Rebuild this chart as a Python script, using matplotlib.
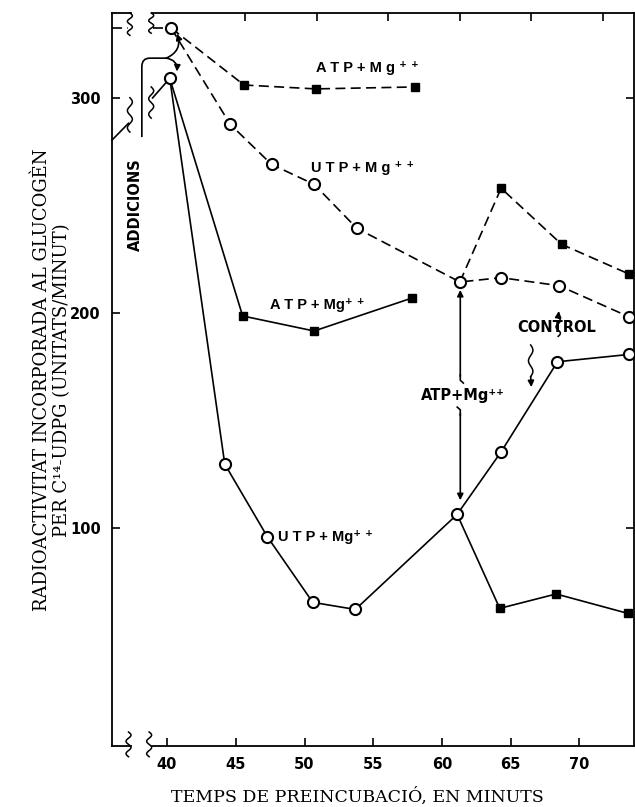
import matplotlib.pyplot as plt
import numpy as np
from matplotlib.path import Path
from matplotlib.patches import PathPatch

# starting points, right after the additions
t_start_hi, v_start_hi = 40.3, 332.4
t_start_lo, v_start_lo = 40.2, 309.0

# dashed group
atp_dash_t = [45.6, 50.8, 58.0]
atp_dash_v = [305.9, 304.1, 305.0]
ctrl_dash_t = [44.6, 47.6, 50.7, 53.8, 61.3, 64.3, 68.5, 73.6]
ctrl_dash_v = [287.6, 269.0, 259.7, 239.3, 214.3, 216.3, 212.6, 198.1]
atp_late_dash_t = [64.3, 68.7, 73.6]
atp_late_dash_v = [257.9, 231.8, 218.0]

# solid group
atp_sol_t = [45.5, 50.7, 57.8]
atp_sol_v = [198.5, 191.5, 206.8]
ctrl_sol_t = [44.2, 47.3, 50.6, 53.7, 61.1, 64.3, 68.4, 73.6]
ctrl_sol_v = [129.6, 95.8, 65.3, 62.0, 106.2, 135.3, 177.2, 180.6]
atp_late_sol_t = [64.2, 68.3, 73.5]
atp_late_sol_v = [62.5, 69.2, 60.2]

x_ticks = [40, 45, 50, 55, 60, 65, 70]
y_ticks = [100, 200, 300]
top_ticks = [45.7, 50.9, 56.1, 61.3, 66.5, 71.7]

SANS = ['Liberation Sans', 'DejaVu Sans']
WIDE = ['DejaVu Sans']
SERIF = ['DejaVu Serif']
K = 'black'
LW = 1.2
DASH = (6.0, 3.2)

fig = plt.figure(figsize=(6.35, 8.07), dpi=100)
ax = fig.add_axes([0.1764, 0.0756, 0.8228, 0.9083])
ax.set_xlim(36.0, 74.0)
ax.set_ylim(-1.5, 339.4)


def line(t, v, dashed):
    kw = dict(color=K, lw=LW, zorder=2, clip_on=False)
    if dashed:
        kw.update(ls='--', dashes=DASH)
    ax.plot(t, v, **kw)


def circles(t, v):
    ax.plot(t, v, ls='none', marker='o', ms=8, mfc='white', mec=K,
            mew=1.5, zorder=4, clip_on=False)


def squares(t, v):
    ax.plot(t, v, ls='none', marker='s', ms=5.8, mfc=K, mec=K,
            zorder=4, clip_on=False)


# dashed curves
line([t_start_hi] + atp_dash_t, [v_start_hi] + atp_dash_v, True)
line([t_start_hi] + ctrl_dash_t, [v_start_hi] + ctrl_dash_v, True)
line([ctrl_dash_t[4]] + atp_late_dash_t, [ctrl_dash_v[4]] + atp_late_dash_v, True)
squares(atp_dash_t, atp_dash_v)
squares(atp_late_dash_t, atp_late_dash_v)
circles([t_start_hi] + ctrl_dash_t, [v_start_hi] + ctrl_dash_v)

# solid curves
line([t_start_lo] + atp_sol_t, [v_start_lo] + atp_sol_v, False)
line([t_start_lo] + ctrl_sol_t, [v_start_lo] + ctrl_sol_v, False)
line([ctrl_sol_t[4]] + atp_late_sol_t, [ctrl_sol_v[4]] + atp_late_sol_v, False)
squares(atp_sol_t, atp_sol_v)
squares(atp_late_sol_t, atp_late_sol_v)
circles([t_start_lo] + ctrl_sol_t, [v_start_lo] + ctrl_sol_v)

# lead-in before the time break
line([36.0, 37.15], [332.4, 332.4], True)
line([38.95, t_start_hi], [332.4, v_start_hi], True)
line([36.0, 37.2], [280.3, 288.1], False)
line([38.95, t_start_lo], [299.9, v_start_lo], False)


def squiggle(x0, y0, y1, amp=0.18, waves=2.0):
    s = np.linspace(0, 1, 80)
    ax.plot(x0 + amp * np.sin(2 * np.pi * waves * s), y0 + (y1 - y0) * s,
            color=K, lw=1.1, zorder=3, clip_on=False)


# axis-break marks
squiggle(37.3, 339.4, 329.0)
squiggle(38.85, 339.4, 330.0)
squiggle(37.3, 300.0, 284.0)
squiggle(38.85, 305.0, 290.5)
squiggle(37.2, 5.0, -6.5)
squiggle(38.7, 5.0, -6.5)

# spines and ticks
ax.spines['top'].set_visible(False)
ax.spines['bottom'].set_visible(False)
for a, b in [(0.0, 0.036), (0.077, 1.0)]:
    ax.plot([a, b], [1, 1], transform=ax.transAxes, color=K, lw=1.3, clip_on=False)
    ax.plot([a, b], [0, 0], transform=ax.transAxes, color=K, lw=1.3, clip_on=False)
for sp in ['left', 'right']:
    ax.spines[sp].set_linewidth(1.3)

ax.set_xticks(x_ticks)
ax.set_yticks(y_ticks)
ax.tick_params(direction='in', length=6, width=1.2, right=True, top=False,
               pad=8)
for lab in ax.get_xticklabels() + ax.get_yticklabels():
    lab.set_fontfamily(WIDE)
    lab.set_fontweight('bold')
    lab.set_fontsize(10.5)

secax = ax.secondary_xaxis('top')
secax.set_xticks(top_ticks)
secax.set_xticklabels([])
secax.tick_params(direction='in', length=6, width=1.2)
secax.spines['top'].set_visible(False)

# labels on the curves
lab_kw = dict(family=SANS, fontweight='bold', fontsize=10.5, color=K, zorder=5)
wide_kw = dict(family=WIDE, fontweight='bold', fontsize=10.5, color=K, zorder=5)
ax.text(54.6, 313.8, 'A T P + M g ⁺ ⁺', ha='center', va='center', **lab_kw)
ax.text(54.2, 267.3, 'U T P + M g ⁺ ⁺', ha='center', va='center', **lab_kw)
ax.text(50.9, 203.5, 'A T P + Mg⁺ ⁺', ha='center', va='center', **lab_kw)
ax.text(48.1, 95.6, 'U T P + Mg⁺ ⁺', ha='left', va='center', **lab_kw)
ax.text(61.5, 161.3, 'ATP+Mg⁺⁺', ha='center', va='center', **wide_kw)
ax.text(68.35, 193.3, 'CONTROL', ha='center', va='center', **wide_kw)
ax.text(37.72, 250.1, 'ADDICIONS', ha='center', va='center', rotation=90,
        **wide_kw)

ARW = dict(arrowstyle='-|>', color=K, lw=1.2, mutation_scale=9,
           shrinkA=0, shrinkB=0)

# additions bracket
bracket = Path([(38.17, 281.7), (38.17, 314.5), (38.17, 318.4), (38.75, 318.4),
                (39.95, 318.4)],
               [Path.MOVETO, Path.LINETO, Path.CURVE3, Path.CURVE3, Path.LINETO])
ax.add_patch(PathPatch(bracket, fill=False, ec=K, lw=1.2, zorder=3, clip_on=False))
ax.annotate('', xy=(40.72, 329.8), xytext=(39.95, 318.4),
            arrowprops=dict(connectionstyle='arc3,rad=0.45', **ARW))
ax.annotate('', xy=(40.72, 312.2), xytext=(39.95, 318.4),
            arrowprops=dict(connectionstyle='arc3,rad=-0.45', **ARW))

# ATP+Mg++ added at the 60-minute point
xm = 61.33
ax.plot([xm + 0.22, xm, xm], [167.3, 168.6, 171.0], color=K, lw=1.2, zorder=3)
ax.annotate('', xy=(xm, 210.6), xytext=(xm, 170.5), arrowprops=ARW)
ax.plot([xm - 0.22, xm, xm], [156.1, 154.8, 152.4], color=K, lw=1.2, zorder=3)
ax.annotate('', xy=(xm, 112.8), xytext=(xm, 153.0), arrowprops=ARW)


def wavy_arrow(x0, y_from, y_to, amp=0.16):
    s = np.linspace(0, 1, 60)
    ys = y_from + (y_to - y_from) * 0.75 * s
    xs = x0 + amp * np.sin(2 * np.pi * 1.5 * s)
    ax.plot(xs, ys, color=K, lw=1.1, zorder=3)
    ax.annotate('', xy=(x0 + 0.05, y_to), xytext=(xs[-1], ys[-1]), arrowprops=ARW)


wavy_arrow(68.45, 189.0, 200.8)
wavy_arrow(66.45, 185.0, 165.4)

# axis titles
fig.text(357 / 635, 1 - 797 / 807, 'TEMPS DE PREINCUBACIÓ, EN MINUTS',
         ha='center', va='center', family=SERIF, fontsize=12.5)
fig.text(42 / 635, 1 - 380 / 807, 'RADIOACTIVITAT INCORPORADA AL GLUCOGÈN',
         ha='center', va='center', rotation=90, family=SERIF, fontsize=13)
fig.text(62 / 635, 1 - 380 / 807, 'PER C¹⁴-UDPG (UNITATS/MINUT)',
         ha='center', va='center', rotation=90, family=SERIF, fontsize=13)

fig.savefig('out.png', dpi=100)
